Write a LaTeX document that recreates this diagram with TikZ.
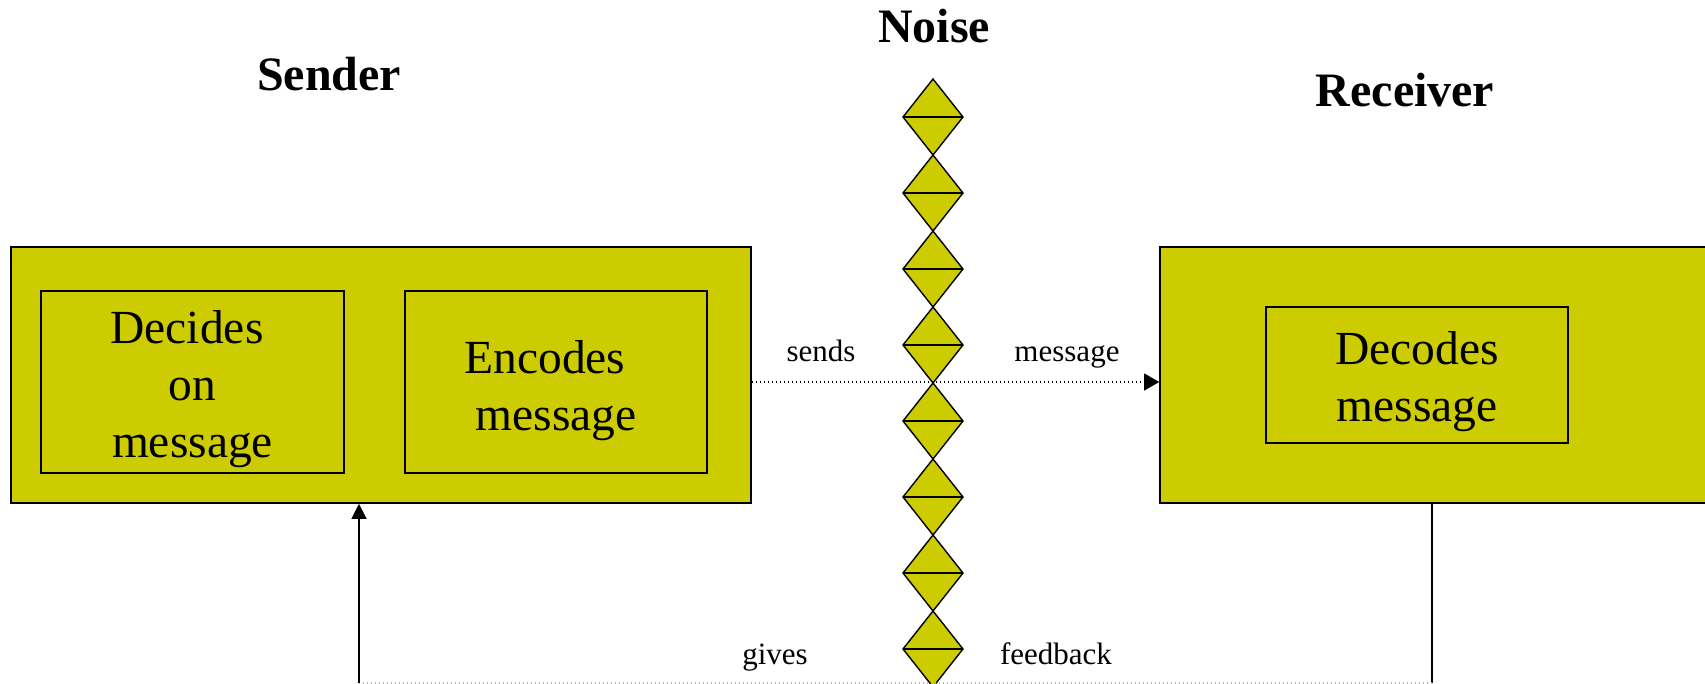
\documentclass[tikz,border=0pt]{standalone}
\usepackage{fontspec}
\setmainfont{Liberation Serif}
\usetikzlibrary{arrows.meta}

\begin{document}
\begin{tikzpicture}[x=0.5pt, y=-0.5pt,
        bigbox/.style={draw=black, line width=0.8pt, fill=olivefill, inner sep=0pt},
        innerbox/.style={draw=black, line width=0.8pt, fill=olivefill, inner sep=0pt},
        boxtext/.style={inner sep=0pt, align=center, font=\fontsize{23.75}{28.5}\selectfont},
        title/.style={anchor=base, font=\fontsize{24}{28}\selectfont\bfseries},
        smalltext/.style={anchor=base, font=\fontsize{15.5}{18}\selectfont},
        sendline/.style={line width=0.6pt, dash pattern=on 0.5pt off 1.5pt,
            -{Triangle[length=7.5pt, width=8.5pt]}},
        fbline/.style={line width=0.6pt},
        greydots/.style={line width=0.6pt, gray!60, dash pattern=on 0.6pt off 1.4pt}]

        % Define colors
        \definecolor{olivefill}{RGB}{204,204,0} % Olive yellow

        % Fix the page and cut what runs over the right edge
        \useasboundingbox (0,0) rectangle (1705,684);
        \clip (0,0) rectangle (1705,684);

        % Titles
        \node[title] (sendertitle) at (329,91) {Sender};
        \node[title] (noisetitle) at (934,43) {Noise};
        \node[title] (receivertitle) at (1405,107) {Receiver};

        % Sender with its two steps
        \node[bigbox, minimum width=370pt, minimum height=128pt] (sender) at (381,375) {};
        \node[innerbox, minimum width=151.5pt, minimum height=91pt] (decides) at (192.5,382) {};
        \node[boxtext] (decidestext) at (192.5,389) {Decides\hspace*{5.5pt}\\on\hspace*{5.5pt}\\message};
        \node[innerbox, minimum width=151pt, minimum height=91pt] (encodes) at (556,382) {};
        \node[boxtext] (encodestext) at (556,391) {Encodes\hspace*{11pt}\\message};

        % Receiver (runs past the right edge)
        \node[bigbox, minimum width=280pt, minimum height=128pt] (receiver) at (1440,375) {};
        \node[innerbox, minimum width=151pt, minimum height=68pt] (decodes) at (1417,375) {};
        \node[boxtext] (decodestext) at (1417,382) {Decodes\\message};

        % Noise: a column of diamonds
        \foreach \i in {0,...,7} {
            \filldraw[olivefill, draw=black, line width=0.7pt]
                (933,79+76*\i) -- (963,117+76*\i) -- (933,155+76*\i) -- (903,117+76*\i) -- cycle;
            \draw[line width=0.9pt] (903,117+76*\i) -- (963,117+76*\i); % Middle line
        }

        % Message from sender to receiver
        \coordinate (cross) at (933,382);
        \draw[sendline] (sender.east |- cross) -- (receiver.west |- cross);
        \node[smalltext] (sends) at (821,362) {sends};
        \node[smalltext] (message) at (1067,362) {message};

        % Feedback from receiver back to sender
        \coordinate (fbright) at (1432,683);
        \coordinate (fbleft) at (359,683);
        \draw[fbline] (receiver.south -| fbright) -- (fbright);
        \draw[greydots] (fbright) -- (fbleft);
        \draw[fbline, -{Triangle[length=7.5pt, width=7.5pt]}] (fbleft) -- (sender.south -| fbleft);
        \node[smalltext] (gives) at (775,664) {gives};
        \node[smalltext] (feedback) at (1056,664) {feedback};
\end{tikzpicture}
\end{document}
